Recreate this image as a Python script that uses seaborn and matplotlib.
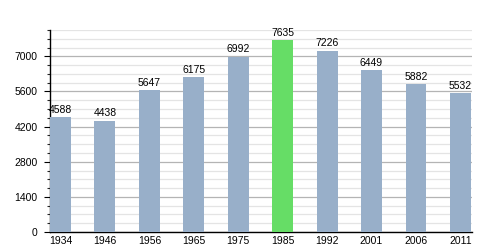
import matplotlib
matplotlib.use("Agg")
import matplotlib.pyplot as plt
import seaborn as sns
import pandas as pd
from matplotlib.ticker import MultipleLocator

years = ["1934", "1946", "1956", "1965", "1975", "1985", "1992", "2001", "2006", "2011"]
population = [4588, 4438, 5647, 6175, 6992, 7635, 7226, 6449, 5882, 5532]
highlight = ["no", "no", "no", "no", "no", "yes", "no", "no", "no", "no"]
yticks = [0, 1400, 2800, 4200, 5600, 7000]

sns.set_style("white")
plt.rcParams['font.family'] = ['Liberation Sans', 'DejaVu Sans']

df = pd.DataFrame({"year": years, "pop": population, "hl": highlight})

fig = plt.figure(figsize=(5, 2.5), dpi=100)
ax = fig.add_axes([0.1, 0.072, 0.844, 0.808])

sns.barplot(data=df, x="year", y="pop", hue="hl",
            palette={"no": "#98afc9", "yes": "#66dd66"},
            dodge=False, width=0.47, legend=False, ax=ax,
            saturation=1, linewidth=0, edgecolor="none", zorder=3)

ax.set_ylim(0, 8050)
ax.set_xlim(-0.235, 9.26)
ax.set_yticks(yticks)
ax.yaxis.set_minor_locator(MultipleLocator(350))
ax.grid(True, axis="y", which="major", color="#b4b4b4", linewidth=0.9, zorder=0)
ax.grid(True, axis="y", which="minor", color="#e4e4e4", linewidth=0.9, zorder=0)
ax.set_axisbelow(True)

for s in ["top", "right"]:
    ax.spines[s].set_visible(False)
for s in ["left", "bottom"]:
    ax.spines[s].set_color("black")
    ax.spines[s].set_linewidth(1.0)

ax.tick_params(axis="y", which="major", direction="out", length=4, width=0.8,
               pad=5, labelsize=7.5, left=True, colors="black")
ax.tick_params(axis="y", which="minor", direction="out", length=2.5, width=0.8, left=True)
ax.tick_params(axis="x", length=0, pad=3, labelsize=7.5, colors="black")
ax.set_xlabel("")
ax.set_ylabel("")

for i, v in enumerate(population):
    ax.text(i, v + 90, str(v), ha="center", va="bottom", fontsize=7.5, color="black")

fig.savefig("out.png", dpi=100)
